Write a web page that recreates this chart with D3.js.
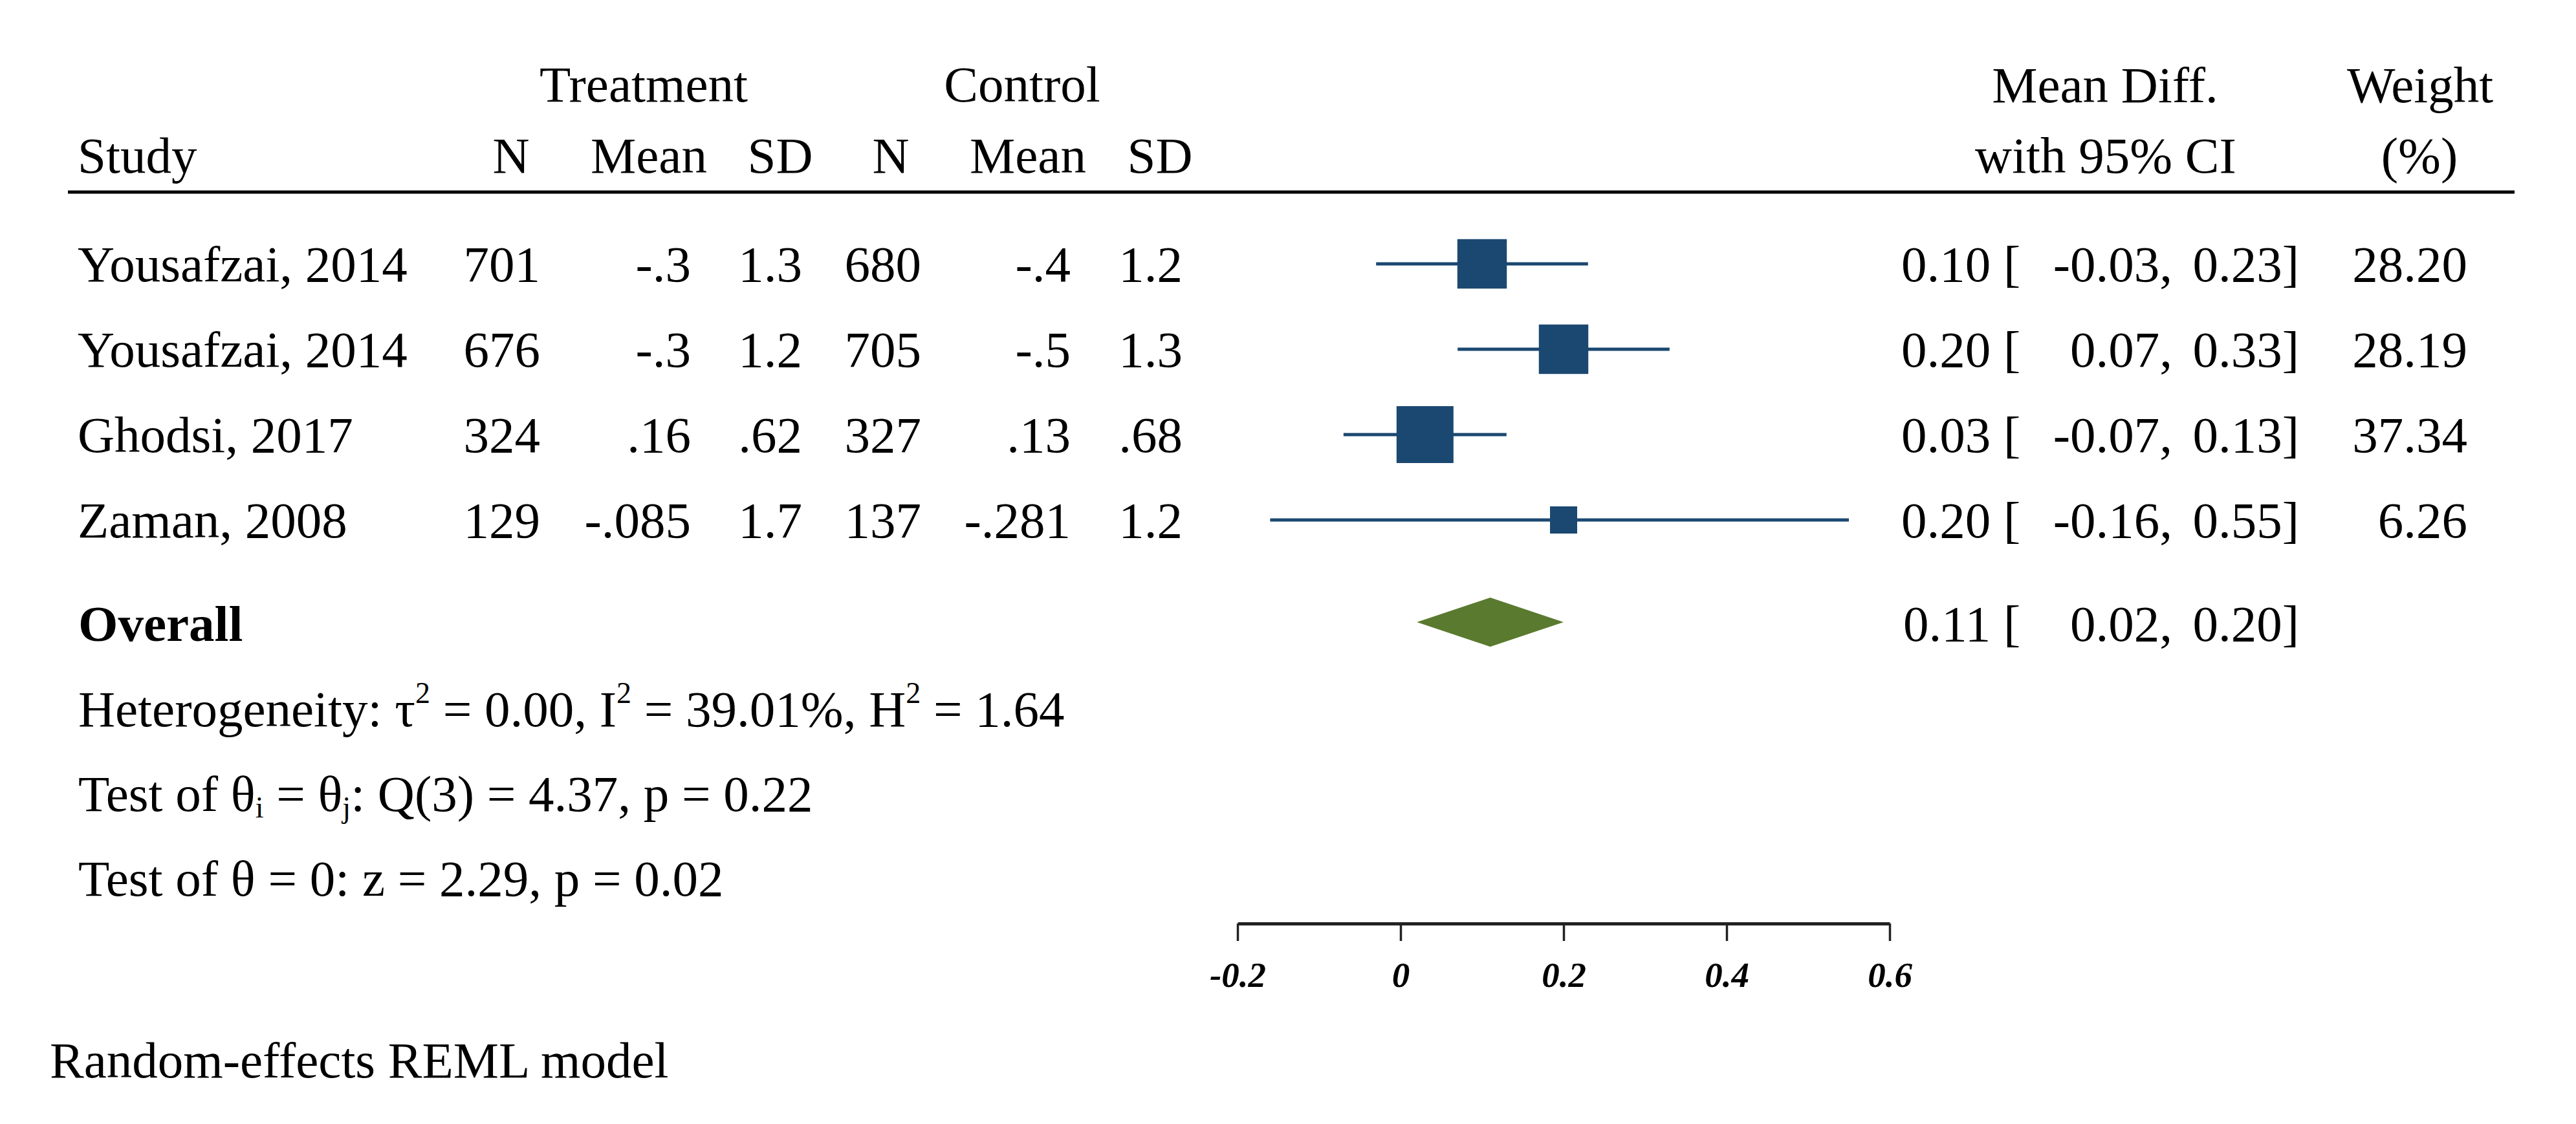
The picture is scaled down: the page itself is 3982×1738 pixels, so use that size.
<!DOCTYPE html>
<html>
<head>
<meta charset="utf-8">
<script src="https://cdn.jsdelivr.net/npm/d3@7"></script>
<style>
  html, body { margin: 0; padding: 0; background: #fff; }
  svg { display: block; }
  text { font-family: "Liberation Serif", "Times New Roman", serif; fill: #000; }
</style>
</head>
<body>
<svg id="chart" width="3982" height="1738"></svg>
<script>
// ---- data ----
const studies   = ["Yousafzai, 2014", "Yousafzai, 2014", "Ghodsi, 2017", "Zaman, 2008"];
const treatN    = ["701", "676", "324", "129"];
const treatMean = ["-.3", "-.3", ".16", "-.085"];
const treatSD   = ["1.3", "1.2", ".62", "1.7"];
const ctrlN     = ["680", "705", "327", "137"];
const ctrlMean  = ["-.4", "-.5", ".13", "-.281"];
const ctrlSD    = ["1.2", "1.3", ".68", "1.2"];
const estimates = [0.10, 0.20, 0.03, 0.20];
const ciLow     = [-0.03, 0.07, -0.07, -0.16];
const ciHigh    = [0.23, 0.33, 0.13, 0.55];
const weights   = [28.20, 28.19, 37.34, 6.26];
const overall   = { est: 0.11, lo: 0.02, hi: 0.20 };
const tickValues = [-0.2, 0, 0.2, 0.4, 0.6];
const tickLabels = ["-0.2", "0", "0.2", "0.4", "0.6"];

// ---- layout ----
const svg = d3.select("#chart");
const FS = 79;
const boxColor = "#1b4871";
const diamondColor = "#5a7a2f";

const x = d3.scaleLinear().domain([-0.2, 0.6]).range([1913, 2921]);
const rowBase = d3.scaleLinear().domain([0, 1]).range([435, 567]); // text baseline per row index
const boxSide = d3.scaleSqrt().domain([0, d3.max(weights)]).range([0, 88]);

const fmt2 = v => v.toFixed(2);

function txt(xp, yp, s, anchor, opts = {}) {
  const t = svg.append("text")
    .attr("x", xp).attr("y", yp)
    .attr("text-anchor", anchor || "start")
    .attr("font-size", opts.size || FS)
    .text(s);
  if (opts.bold) t.attr("font-weight", "bold");
  return t;
}

// headers
txt(995, 157, "Treatment", "middle");
txt(1580, 157, "Control", "middle");
txt(3254, 158, "Mean Diff.", "middle");
txt(3255, 267, "with 95% CI", "middle");
txt(3741, 158, "Weight", "middle");
txt(3740, 267, "(%)", "middle");
txt(120, 267, "Study", "start");
const subHeads = [["N", 790], ["Mean", 1003], ["SD", 1206], ["N", 1377], ["Mean", 1589], ["SD", 1793]];
subHeads.forEach(([s, xp]) => txt(xp, 267, s, "middle"));

// header rule
svg.append("line").attr("x1", 105).attr("x2", 3887).attr("y1", 297).attr("y2", 297)
  .attr("stroke", "#000").attr("stroke-width", 5);

// table rows
const cols = [
  [treatN, 835], [treatMean, 1068], [treatSD, 1240],
  [ctrlN, 1424], [ctrlMean, 1655], [ctrlSD, 1828]
];
studies.forEach((s, i) => {
  const yb = rowBase(i);
  txt(120, yb, s, "start");
  cols.forEach(([arr, xr]) => txt(xr, yb, arr[i], "end"));
  txt(2939, yb, fmt2(estimates[i]) + " [", "start");
  txt(3358, yb, fmt2(ciLow[i]) + ",", "end");
  txt(3554, yb, fmt2(ciHigh[i]) + "]", "end");
  txt(3814, yb, fmt2(weights[i]), "end");
});

// CI lines and boxes
const g = svg.append("g");
studies.forEach((s, i) => {
  const yc = rowBase(i) - 27;
  g.append("line")
    .attr("x1", x(ciLow[i])).attr("x2", x(ciHigh[i]))
    .attr("y1", yc).attr("y2", yc)
    .attr("stroke", boxColor).attr("stroke-width", 5);
  const side = Math.max(boxSide(weights[i]), 42);
  g.append("rect")
    .attr("x", x(estimates[i]) - side / 2).attr("y", yc - side / 2)
    .attr("width", side).attr("height", side)
    .attr("fill", boxColor);
});

// overall
const oBase = 991;
txt(121, oBase, "Overall", "start", { bold: true });
txt(2942, oBase, fmt2(overall.est) + " [", "start");
txt(3358, oBase, fmt2(overall.lo) + ",", "end");
txt(3554, oBase, fmt2(overall.hi) + "]", "end");
const oc = oBase - 29, half = 38;
svg.append("path")
  .attr("d", `M${x(overall.lo)},${oc} L${x(overall.est)},${oc - half} L${x(overall.hi)},${oc} L${x(overall.est)},${oc + half} Z`)
  .attr("fill", diamondColor);

// stats lines (with super/subscripts)
function richLine(yb, parts) {
  const t = svg.append("text").attr("x", 121).attr("y", yb).attr("font-size", FS);
  let pending = 0;
  parts.forEach(p => {
    if (typeof p === "string") {
      t.append("tspan").attr("font-size", FS).attr("dy", pending).text(p);
      pending = 0;
    } else if (p.sup) {
      t.append("tspan").attr("font-size", 46).attr("dy", pending - 36).text(p.sup);
      pending = 36;
    } else if (p.sub) {
      t.append("tspan").attr("font-size", 46).attr("dy", pending + 10).text(p.sub);
      pending = -10;
    }
  });
}
richLine(1123, ["Heterogeneity: τ", { sup: "2" }, " = 0.00, I", { sup: "2" }, " = 39.01%, H", { sup: "2" }, " = 1.64"]);
richLine(1254, ["Test of θ", { sub: "i" }, " = θ", { sub: "j" }, ": Q(3) = 4.37, p = 0.22"]);
richLine(1385, ["Test of θ = 0: z = 2.29, p = 0.02"]);

// axis
const axis = d3.axisBottom(x)
  .tickValues(tickValues)
  .tickFormat((d, i) => tickLabels[i])
  .tickSize(27)
  .tickSizeOuter(0)
  .tickPadding(32);
const ax = svg.append("g").attr("transform", "translate(0,1428)").call(axis);
ax.select(".domain").attr("stroke", "#222").attr("stroke-width", 5);
ax.selectAll(".tick line").attr("stroke", "#222").attr("stroke-width", 3.5);
ax.selectAll(".tick text")
  .attr("font-family", "'Liberation Serif', serif")
  .attr("font-style", "italic")
  .attr("font-weight", "bold")
  .attr("font-size", 55)
  .attr("fill", "#111");

// footer
txt(77, 1666, "Random-effects REML model", "start");
</script>
</body>
</html>
